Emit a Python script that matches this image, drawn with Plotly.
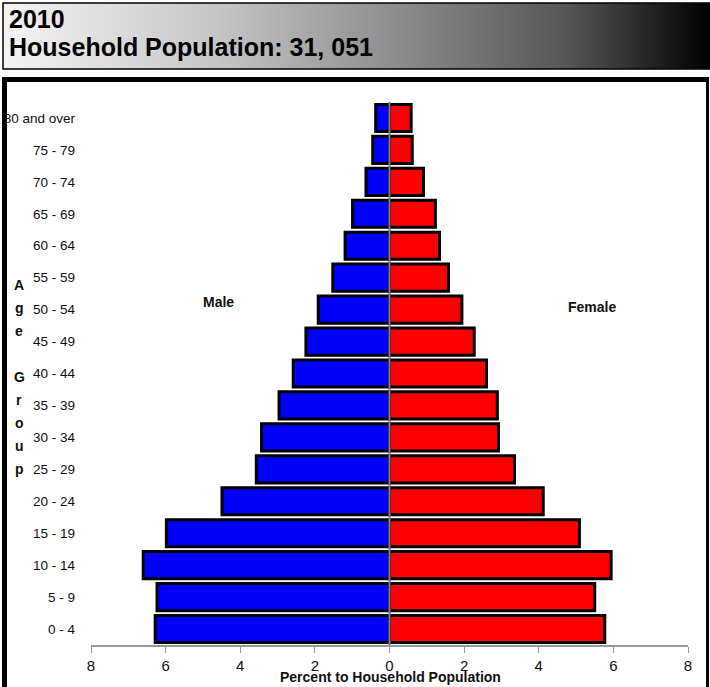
import base64
import plotly.graph_objects as go

age_groups = ["0 - 4", "5 - 9", "10 - 14", "15 - 19", "20 - 24", "25 - 29", "30 - 34",
              "35 - 39", "40 - 44", "45 - 49", "50 - 54", "55 - 59", "60 - 64",
              "65 - 69", "70 - 74", "75 - 79", "80 and over"]
male_pct = [6.28, 6.23, 6.60, 5.98, 4.49, 3.57, 3.43, 2.96, 2.58, 2.24, 1.91, 1.52,
            1.19, 0.99, 0.63, 0.45, 0.37]
female_pct = [5.77, 5.50, 5.94, 5.09, 4.12, 3.35, 2.92, 2.89, 2.60, 2.27, 1.94, 1.58,
              1.34, 1.23, 0.91, 0.61, 0.58]
x_tickvals = [-8, -6, -4, -2, 0, 2, 4, 6, 8]
x_ticktext = ["8", "6", "4", "2", "0", "2", "4", "6", "8"]

W, H = 710, 687
L, R, T, B = 91, 22, 102, 42
PW, PH = W - L - R, H - T - B


def px(x):
    return (x - L) / PW


def py(y):
    return (H - B - y) / PH


NARROW = "Liberation Sans Narrow, Arial Narrow, Liberation Sans, Arial, sans-serif"
BOLD = "Liberation Sans, Arial, sans-serif"

fig = go.Figure()
fig.add_trace(go.Bar(
    y=age_groups, x=[-v for v in male_pct], orientation="h", name="Male",
    marker=dict(color="#0000FF", line=dict(color="#000000", width=3)),
    showlegend=False, hoverinfo="skip"))
fig.add_trace(go.Bar(
    y=age_groups, x=female_pct, orientation="h", name="Female",
    marker=dict(color="#FF0000", line=dict(color="#000000", width=3)),
    showlegend=False, hoverinfo="skip"))

svg = ('<svg xmlns="http://www.w3.org/2000/svg" width="710" height="67" preserveAspectRatio="none">'
       '<defs><linearGradient id="g" x1="0" y1="0" x2="1" y2="0">'
       '<stop offset="0" stop-color="#f4f4f4"/>'
       '<stop offset="0.3" stop-color="#c6c6c6"/>'
       '<stop offset="0.55" stop-color="#8e8e8e"/>'
       '<stop offset="0.8" stop-color="#555555"/>'
       '<stop offset="1" stop-color="#000000"/>'
       '</linearGradient></defs>'
       '<rect x="0" y="0" width="710" height="67" fill="url(#g)"/></svg>')
src = "data:image/svg+xml;base64," + base64.b64encode(svg.encode()).decode()

fig.update_layout(
    width=W, height=H,
    margin=dict(l=L, r=R, t=T, b=B, autoexpand=False),
    paper_bgcolor="white", plot_bgcolor="white",
    barmode="relative", bargap=0.15,
    font=dict(family=NARROW, color="#111111", size=14),
    xaxis=dict(range=[-8, 8], tickvals=x_tickvals, ticktext=x_ticktext,
               showgrid=False, zeroline=False, showline=True, linecolor="#999999",
               linewidth=1.5, ticks="outside", ticklen=6, tickcolor="#999999",
               tickfont=dict(family=NARROW, size=15, color="#111111")),
    yaxis=dict(type="category", categoryorder="array", categoryarray=age_groups,
               range=[-0.5, 16.5], showgrid=False, zeroline=False, showline=False,
               ticks="", ticklabelstandoff=15,
               tickfont=dict(family=NARROW, size=13.5, color="#111111")),
    images=[dict(source=src, xref="paper", yref="paper", x=px(3), y=py(3),
                 sizex=(W - 3) / PW, sizey=66 / PH, sizing="stretch",
                 xanchor="left", yanchor="top", layer="below")],
)

shapes = [
    # banner border
    dict(type="rect", xref="paper", yref="paper", x0=px(3), x1=px(712), y0=py(3), y1=py(69),
         line=dict(color="#000000", width=1.5), fillcolor="rgba(0,0,0,0)", layer="above"),
    # chart box
    dict(type="line", xref="paper", yref="paper", x0=px(4.5), x1=px(4.5), y0=py(77), y1=py(700),
         line=dict(color="#000000", width=5), layer="above"),
    dict(type="line", xref="paper", yref="paper", x0=px(2), x1=px(709), y0=py(79.5), y1=py(79.5),
         line=dict(color="#000000", width=5), layer="above"),
    dict(type="line", xref="paper", yref="paper", x0=px(707.5), x1=px(707.5), y0=py(77), y1=py(700),
         line=dict(color="#000000", width=3), layer="above"),
    # centre line
    dict(type="line", xref="x", yref="paper", x0=0, x1=0, y0=0, y1=1,
         line=dict(color="#808080", width=2), layer="above"),
]
fig.update_layout(shapes=shapes)

ann = [
    dict(text="<b>2010</b>", x=px(7), y=py(19), xanchor="left", yanchor="middle",
         font=dict(family=BOLD, size=25, color="#000000")),
    dict(text="<b>Household Population: 31, 051</b>", x=px(7), y=py(47), xanchor="left",
         yanchor="middle", font=dict(family=BOLD, size=25, color="#000000")),
    dict(text="<b>Percent to Household Population</b>", x=px(390), y=py(677), xanchor="center",
         yanchor="middle", font=dict(family=NARROW, size=14, color="#111111")),
    dict(text="<b>Male</b>", x=px(218), y=py(302), xanchor="center", yanchor="middle",
         font=dict(family=NARROW, size=14, color="#111111")),
    dict(text="<b>Female</b>", x=px(592), y=py(307), xanchor="center", yanchor="middle",
         font=dict(family=NARROW, size=14, color="#111111")),
]
letters = ["A", "g", "e", "G", "r", "o", "u", "p"]
letter_y = [285, 308, 331, 377, 400, 423, 446, 469]
for ch, yy in zip(letters, letter_y):
    ann.append(dict(text="<b>" + ch + "</b>", x=px(19), y=py(yy), xanchor="center",
                    yanchor="middle", font=dict(family=NARROW, size=14, color="#111111")))
for a in ann:
    a.update(xref="paper", yref="paper", showarrow=False)
fig.update_layout(annotations=ann)

fig.write_html("out.html", config={"displayModeBar": False},
               post_script="document.body.style.margin='0';document.body.style.overflow='hidden';")
